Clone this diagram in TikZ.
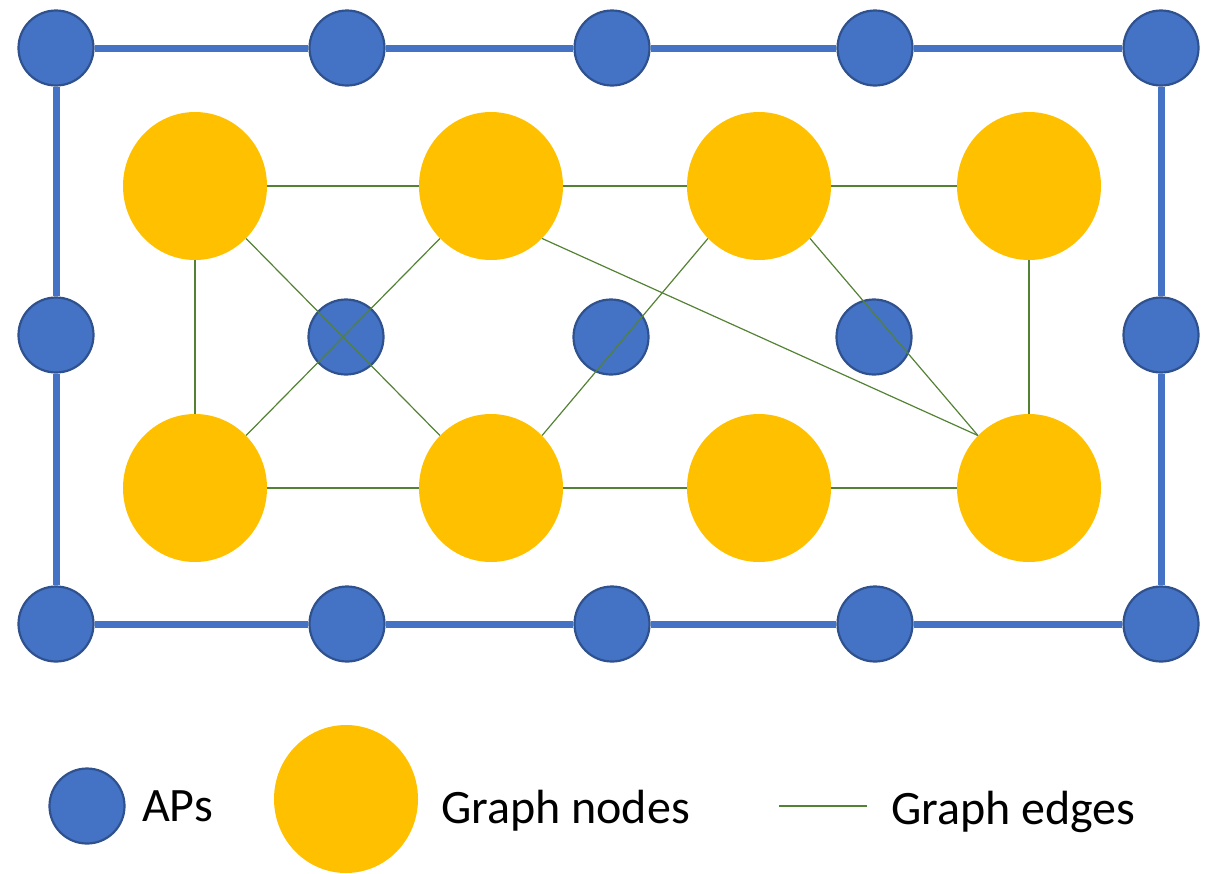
\documentclass[tikz,border=0pt]{standalone}
\usepackage{fontspec}
\setmainfont{Carlito}
\usetikzlibrary{shapes.geometric}

\definecolor{apblue}{HTML}{4472C4}
\definecolor{apborder}{HTML}{2F528F}
\definecolor{nodegold}{HTML}{FFC000}
\definecolor{edgegreen}{HTML}{548235}

\begin{document}
\begin{tikzpicture}[x=1pt, y=-1pt,
    every ap/.style={circle, fill=apblue, draw=apborder, line width=2.2pt,
        minimum size=75pt, inner sep=0pt},
    every gnode/.style={ellipse, fill=nodegold, minimum width=144pt,
        minimum height=148pt, inner sep=0pt},
    wall/.style={apblue, line width=7pt},
    gedge/.style={edgegreen, line width=1.2pt},
    legend/.style={font=\fontsize{48}{57}\selectfont, anchor=base west, inner sep=0pt}]

\useasboundingbox (0, 0) rectangle (1217, 873);

\foreach \x [count=\i] in {56, 347, 612, 875, 1161}
    \node [every ap] (top-\i) at (\x, 48) {};

\foreach \x [count=\i] in {56, 347, 612, 875, 1161}
    \node [every ap] (bottom-\i) at (\x, 624) {};

\node [every ap] (left) at (56, 335) {};
\node [every ap] (right) at (1161, 335) {};

\foreach \i [evaluate=\i as \j using int(\i+1)] in {1, ..., 4}
    \draw [wall] (top-\i) -- (top-\j);

\foreach \i [evaluate=\i as \j using int(\i+1)] in {1, ..., 4}
    \draw [wall] (bottom-\i) -- (bottom-\j);

\draw [wall] (top-1) -- (left);
\draw [wall] (left) -- (bottom-1);
\draw [wall] (top-5) -- (right);
\draw [wall] (right) -- (bottom-5);

\foreach \x [count=\i] in {346, 611, 874}
    \node [every ap] (inner-\i) at (\x, 337) {};

\foreach \x [count=\i] in {195, 491, 759, 1029}
    \node [every gnode] (upper-\i) at (\x, 186) {};

\foreach \x [count=\i] in {195, 491, 759, 1029}
    \node [every gnode] (lower-\i) at (\x, 488) {};

\foreach \a/\b in {upper-1.east/upper-2.west, upper-2.east/upper-3.west,
        upper-3.east/upper-4.west, lower-1.east/lower-2.west,
        lower-2.east/lower-3.west, lower-3.east/lower-4.west,
        upper-1.south/lower-1.north, upper-4.south/lower-4.north,
        upper-1.south east/lower-2.north west, lower-1.north east/upper-2.south west,
        lower-2.north east/upper-3.south west, upper-2.south east/lower-4.north west,
        upper-3.south east/lower-4.north west}
    \draw [gedge] (\a) -- (\b);

\node [every ap] (key-ap) at (87, 806) {};
\node [legend] (key-ap-text) at (142, 821) {APs};

\node [every gnode] (key-node) at (346, 799) {};
\node [legend] (key-node-text) at (441, 823) {Graph nodes};

\coordinate (key-edge-a) at (779, 806);
\coordinate (key-edge-b) at (867, 806);
\draw [gedge] (key-edge-a) -- (key-edge-b);
\node [legend] (key-edge-text) at (891, 824) {Graph edges};

\end{tikzpicture}
\end{document}
